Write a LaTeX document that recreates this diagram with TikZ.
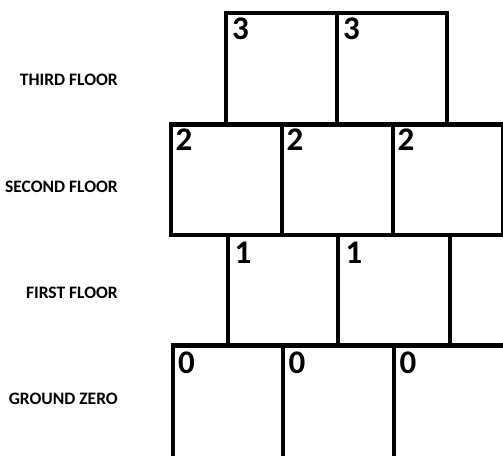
\documentclass[tikz,border=0pt]{standalone}
\usepackage{fontspec}
\setmainfont{Carlito}
\begin{document}
\begin{tikzpicture}[x=1pt,y=-1pt,
  wall/.style={line width=4.2pt,line cap=rect,line join=miter},
  num/.style={anchor=north west,inner sep=0pt,font=\fontsize{33}{33}\selectfont\bfseries},
  floorlabel/.style={anchor=east,inner sep=0pt,font=\fontsize{17.5}{18}\selectfont\bfseries}]
\useasboundingbox (0,0) rectangle (503,455);
\clip (0,0) rectangle (503,455);
% third floor
\draw[wall] (225.7,125) -- (225.7,13) -- (447,13) -- (447,125);
\draw[wall] (336.7,13) -- (336.7,125);
% second floor
\draw[wall] (170.7,235) rectangle (502.7,124.5);
\draw[wall] (281.7,124.5) -- (281.7,235);
\draw[wall] (392.7,124.5) -- (392.7,235);
% first floor
\draw[wall] (227.7,235) -- (227.7,345.5);
\draw[wall] (338.3,235) -- (338.3,345.5);
\draw[wall] (450,235) -- (450,345.5);
% ground
\draw[wall] (173.3,470) -- (173.3,345.5) -- (520,345.5);
\draw[wall] (283.3,345.5) -- (283.3,470);
\draw[wall] (394.3,345.5) -- (394.3,470);
% numbers
\node[num] (t1) at (232,18) {3};
\node[num] (t2) at (343,18) {3};
\node[num] (s1) at (175.5,129) {2};
\node[num] (s2) at (286.5,129) {2};
\node[num] (s3) at (397.5,129) {2};
\node[num] (f1) at (234.5,242) {1};
\node[num] (f2) at (345.5,242) {1};
\node[num] (g1) at (178,352) {0};
\node[num] (g2) at (288.5,352) {0};
\node[num] (g3) at (399.5,352) {0};
% labels
\node[floorlabel] (l3) at (118,80) {THIRD FLOOR};
\node[floorlabel] (l2) at (118,187) {SECOND FLOOR};
\node[floorlabel] (l1) at (118,292.5) {FIRST FLOOR};
\node[floorlabel] (l0) at (118,399) {GROUND ZERO};
\end{tikzpicture}
\end{document}
